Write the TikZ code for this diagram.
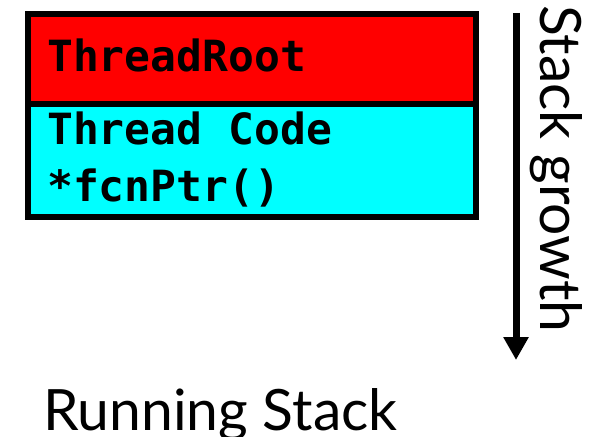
\documentclass[tikz,border=0pt]{standalone}
\usepackage{fontspec}
\setmainfont{Lato}
\newfontfamily\codefont{DejaVu Sans Mono}
\usetikzlibrary{arrows.meta}
\definecolor{rootred}{RGB}{255,0,0}
\definecolor{codecyan}{RGB}{0,255,255}

\begin{document}
\begin{tikzpicture}[x=1pt, y=1pt,
  frame/.style={draw=black, line width=6pt, minimum width=448pt,
                anchor=north west, inner sep=0pt},
  code/.style={anchor=base west, inner sep=0pt,
               font=\codefont\bfseries\fontsize{43}{43}\selectfont},
  caption/.style={anchor=base west, inner sep=0pt,
                  font=\fontsize{57}{57}\selectfont},
  growarrow/.style={line width=7pt, -{Triangle[length=23pt, width=24pt]}}
]
  \useasboundingbox (0,0) rectangle (593,436);

  \node[frame, fill=rootred,  minimum height=90.5pt]  (root) at (25,425)   {};
  \node[frame, fill=codecyan, minimum height=112.5pt] (body) at (25,334.5) {};

  \node[code] (rootlbl) at (47,364) {ThreadRoot};
  \node[code] (codelbl) at (47,291) {Thread Code};
  \node[code] (fcnlbl)  at (47,234) {*fcnPtr()};

  \coordinate (gtop) at (516,423);
  \coordinate (gbot) at (516,76);
  \draw[growarrow] (gtop) -- (gbot);

  \node[caption, rotate=-90] (growth) at (540,431) {Stack growth};
  \node[caption] (title) at (43,6) {Running Stack};
\end{tikzpicture}
\end{document}
